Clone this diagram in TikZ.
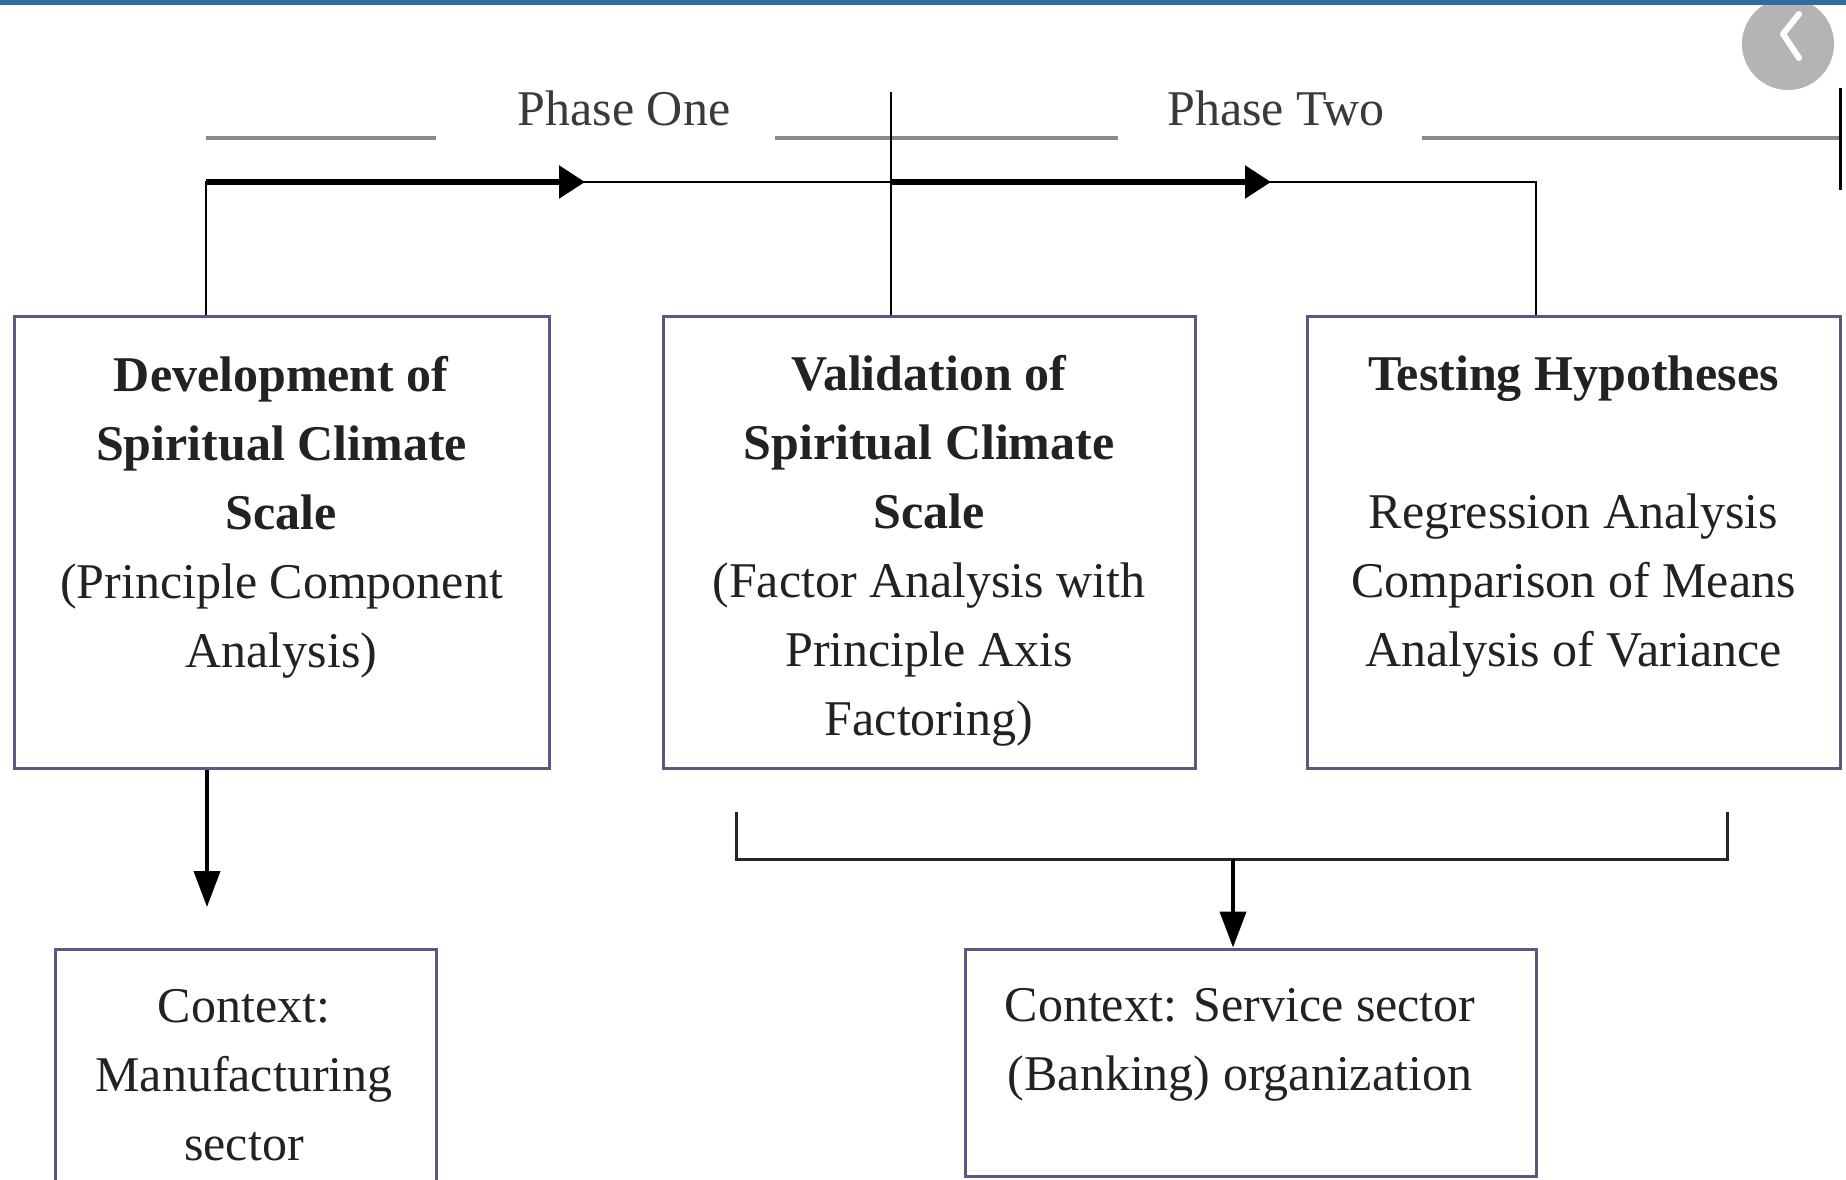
\documentclass[tikz,border=0pt]{standalone}
\usepackage{fontspec}
\setmainfont{Liberation Serif}
\usetikzlibrary{arrows.meta}
\definecolor{topbar}{HTML}{2E6DA2}
\definecolor{boxline}{HTML}{5A5A80}
\definecolor{inkdark}{HTML}{222222}
\definecolor{phaseink}{HTML}{3A3A3A}
\definecolor{phaserule}{HTML}{8A8A8A}
\definecolor{icongrey}{HTML}{B4B4B4}

\tikzset{
  panel/.style={draw=boxline, line width=1.5pt, fill=white, inner sep=0pt},
  boxtext/.style={align=center, text=inkdark, inner sep=0pt,
    font=\fontsize{25pt}{34.5pt}\selectfont},
  phaselabel/.style={text=phaseink, inner sep=0pt,
    font=\fontsize{25pt}{30pt}\selectfont},
  phaseline/.style={draw=phaserule, line width=2pt},
  timeline/.style={draw=black, line width=1.4pt},
  timearrow/.style={draw=black, line width=2.8pt,
    -{Triangle[length=13pt,width=16pt]}},
  tick/.style={draw=black, line width=1pt},
  downarrow/.style={draw=black, line width=2pt,
    -{Triangle[length=18pt,width=13pt]}},
  bracket/.style={draw=black!85, line width=1.5pt}
}

\begin{document}
\begin{tikzpicture}[x=0.5pt,y=-0.5pt]
\useasboundingbox (0,0) rectangle (1846,1179);
\clip (0,0) rectangle (1846,1179);
\fill[white] (0,0) rectangle (1846,1179);

% round "back" button in the corner
\fill[icongrey] (1788,44) circle [radius=23pt];
\draw[white, line width=3pt, line cap=round, line join=round]
  (1799,14) -- (1783,34) -- (1799,58);

% window bar along the top edge
\fill[topbar] (0,0) rectangle (1846,5);

% phase headings with their rules
\node[phaselabel] (p1) at (624,108) {Phase One};
\node[phaselabel] (p2) at (1276,108) {Phase Two};
\coordinate (ra) at (206,138);  \coordinate (rb) at (436,138);
\coordinate (rc) at (775,138);  \coordinate (rd) at (1118,138);
\coordinate (re) at (1422,138); \coordinate (rf) at (1840,138);
\draw[phaseline] (ra) -- (rb);
\draw[phaseline] (rc) -- (rd);
\draw[phaseline] (re) -- (rf);

% the three analysis stages
\node[panel, minimum width=267.5pt, minimum height=226pt] (b1) at (281.5,542) {};
\node[panel, minimum width=266pt, minimum height=226pt] (b2) at (929,542) {};
\node[panel, minimum width=266.5pt, minimum height=226pt] (b3) at (1573.5,542) {};

\node[boxtext] (t1) at (281.5,517) {\textbf{Development of}\\
  \textbf{Spiritual Climate}\\ \textbf{Scale}\\ (Principle Component\\ Analysis)};
\node[boxtext] (t2) at (929,551) {\textbf{Validation of}\\
  \textbf{Spiritual Climate}\\ \textbf{Scale}\\ (Factor Analysis with\\
  Principle Axis\\ Factoring)};
\node[boxtext] (t3) at (1573.5,517) {\textbf{Testing Hypotheses}\\[34.5pt]
  Regression Analysis\\ Comparison of Means\\ Analysis of Variance};

% contexts
\node[panel, minimum width=190.5pt, minimum height=125.5pt] (b4) at (245.5,1074.5) {};
\node[boxtext] (t4) at (244,1075) {Context:\\ Manufacturing\\ sector};
\node[panel, minimum width=285.5pt, minimum height=113.5pt] (b5) at (1250.5,1062.5) {};
\node[boxtext] (t5) at (1240,1045) {Context: Service sector\\ (Banking) organization};

% time line joining the stages
\coordinate (s0) at (206,182);
\coordinate (s1) at (1536,182);
\coordinate (s2) at (891,182);
\coordinate (h1) at (585,182);
\coordinate (h2) at (1271,182);
\draw[timeline] (s0 |- b1.north) -- (s0) -- (s1) -- (s1 |- b3.north);
\draw[timearrow] (s0) -- (h1);
\draw[timearrow] (s2) -- (h2);

% phase separators
\coordinate (m0) at (891,92);
\draw[tick] (m0) -- (m0 |- b2.north);
\coordinate (e0) at (1840,88);
\coordinate (e1) at (1840,190);
\draw[tick, line width=1.5pt] (e0) -- (e1);

% stage one leads to the manufacturing context
\coordinate (a1) at (207,907);
\draw[downarrow] (a1 |- b1.south) -- (a1);

% stages two and three lead to the service context
\coordinate (k0) at (736,812);
\coordinate (k1) at (736,859);
\coordinate (k2) at (1727,859);
\coordinate (k3) at (1727,812);
\draw[bracket] (k0) -- (k1) -- (k2) -- (k3);
\coordinate (k) at (1233,859);
\draw[downarrow] (k) -- (k |- b5.north);
\end{tikzpicture}
\end{document}
